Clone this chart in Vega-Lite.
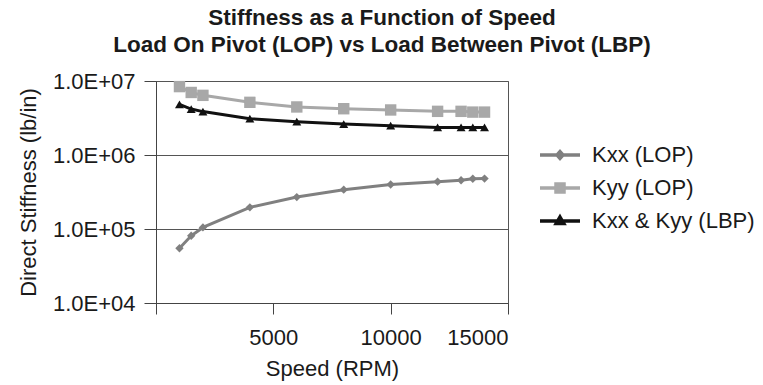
{
  "$schema": "https://vega.github.io/schema/vega-lite/v6.json",
  "width": 352,
  "height": 222,
  "autosize": {"type": "none"},
  "padding": {"left": 156, "top": 81, "right": 255, "bottom": 82},
  "background": "white",
  "title": {
    "text": ["Stiffness as a Function of Speed", "Load On Pivot (LOP) vs Load Between Pivot (LBP)"],
    "font": "Liberation Sans",
    "fontSize": 22.5,
    "fontWeight": "bold",
    "color": "#1a1a1a",
    "lineHeight": 27,
    "anchor": "middle",
    "dx": 50,
    "offset": 14
  },
  "config": {
    "view": {"stroke": "#555555", "strokeWidth": 1},
    "font": "Liberation Sans",
    "axis": {
      "labelFont": "Liberation Sans",
      "titleFont": "Liberation Sans",
      "labelColor": "#1a1a1a",
      "titleColor": "#1a1a1a",
      "titleFontWeight": "normal",
      "domainColor": "#444444",
      "tickColor": "#444444",
      "gridColor": "#555555",
      "gridOpacity": 1
    }
  },
  "data": {
    "values": [
      {"speed": 1000, "stiffness": 55000, "series": "Kxx (LOP)"},
      {"speed": 1500, "stiffness": 81000, "series": "Kxx (LOP)"},
      {"speed": 2000, "stiffness": 105000, "series": "Kxx (LOP)"},
      {"speed": 4000, "stiffness": 196000, "series": "Kxx (LOP)"},
      {"speed": 6000, "stiffness": 270000, "series": "Kxx (LOP)"},
      {"speed": 8000, "stiffness": 340000, "series": "Kxx (LOP)"},
      {"speed": 10000, "stiffness": 400000, "series": "Kxx (LOP)"},
      {"speed": 12000, "stiffness": 436000, "series": "Kxx (LOP)"},
      {"speed": 13000, "stiffness": 455000, "series": "Kxx (LOP)"},
      {"speed": 13500, "stiffness": 478000, "series": "Kxx (LOP)"},
      {"speed": 14000, "stiffness": 480000, "series": "Kxx (LOP)"},
      {"speed": 1000, "stiffness": 8400000, "series": "Kyy (LOP)"},
      {"speed": 1500, "stiffness": 7000000, "series": "Kyy (LOP)"},
      {"speed": 2000, "stiffness": 6400000, "series": "Kyy (LOP)"},
      {"speed": 4000, "stiffness": 5150000, "series": "Kyy (LOP)"},
      {"speed": 6000, "stiffness": 4460000, "series": "Kyy (LOP)"},
      {"speed": 8000, "stiffness": 4220000, "series": "Kyy (LOP)"},
      {"speed": 10000, "stiffness": 4060000, "series": "Kyy (LOP)"},
      {"speed": 12000, "stiffness": 3890000, "series": "Kyy (LOP)"},
      {"speed": 13000, "stiffness": 3890000, "series": "Kyy (LOP)"},
      {"speed": 13500, "stiffness": 3800000, "series": "Kyy (LOP)"},
      {"speed": 14000, "stiffness": 3800000, "series": "Kyy (LOP)"},
      {"speed": 1000, "stiffness": 4840000, "series": "Kxx & Kyy (LBP)"},
      {"speed": 1500, "stiffness": 4180000, "series": "Kxx & Kyy (LBP)"},
      {"speed": 2000, "stiffness": 3860000, "series": "Kxx & Kyy (LBP)"},
      {"speed": 4000, "stiffness": 3100000, "series": "Kxx & Kyy (LBP)"},
      {"speed": 6000, "stiffness": 2820000, "series": "Kxx & Kyy (LBP)"},
      {"speed": 8000, "stiffness": 2620000, "series": "Kxx & Kyy (LBP)"},
      {"speed": 10000, "stiffness": 2490000, "series": "Kxx & Kyy (LBP)"},
      {"speed": 12000, "stiffness": 2360000, "series": "Kxx & Kyy (LBP)"},
      {"speed": 13000, "stiffness": 2360000, "series": "Kxx & Kyy (LBP)"},
      {"speed": 13500, "stiffness": 2360000, "series": "Kxx & Kyy (LBP)"},
      {"speed": 14000, "stiffness": 2360000, "series": "Kxx & Kyy (LBP)"}
    ]
  },
  "encoding": {
    "x": {
      "field": "speed",
      "type": "quantitative",
      "scale": {"domain": [0, 15000], "nice": false, "zero": true},
      "axis": {
        "title": "Speed (RPM)",
        "values": [0, 5000, 10000, 15000],
        "format": "d",
        "labelExpr": "datum.value == 0 ? '' : datum.label",
        "grid": false,
        "tickSize": 11,
        "labelPadding": 13,
        "labelFontSize": 22,
        "titleFontSize": 22,
        "titlePadding": 10
      }
    },
    "y": {
      "field": "stiffness",
      "type": "quantitative",
      "scale": {"type": "log", "domain": [10000, 10000000], "nice": false},
      "axis": {
        "title": "Direct Stiffness (lb/in)",
        "values": [10000, 100000, 1000000, 10000000],
        "labelExpr": "'1.0E+0' + round(log(datum.value) / LN10)",
        "grid": true,
        "tickSize": 12,
        "labelPadding": 9,
        "labelFontSize": 22,
        "titleFontSize": 22,
        "titlePadding": 12
      }
    },
    "color": {
      "field": "series",
      "type": "nominal",
      "scale": {
        "domain": ["Kxx (LOP)", "Kyy (LOP)", "Kxx & Kyy (LBP)"],
        "range": ["#808080", "#a8a8a8", "#111111"]
      },
      "legend": {
        "title": null,
        "orient": "none",
        "legendX": 382,
        "legendY": 52,
        "symbolType": "stroke",
        "symbolStrokeWidth": 3.5,
        "symbolSize": 1600,
        "labelFontSize": 22,
        "labelLimit": 400,
        "labelFont": "Liberation Sans",
        "labelColor": "#1a1a1a",
        "labelOffset": 10,
        "rowPadding": -11.5,
        "encode": {
          "symbols": {
            "update": {
              "shape": {"signal": "datum.value == 'Kxx (LOP)' ? 'M-1,0H1M0,-0.17L0.15,0L0,0.17L-0.15,0Z' : datum.value == 'Kyy (LOP)' ? 'M-1,0H1M-0.2,-0.2H0.2V0.2H-0.2Z' : 'M-1,0H1M0,-0.2L0.19,0.13H-0.19Z'"},
              "fill": {"scale": "color", "field": "value"},
              "fillOpacity": {"value": 1}
            }
          }
        }
      }
    }
  },
  "layer": [
    {"mark": {"type": "line", "strokeWidth": 3}},
    {
      "mark": {"type": "point", "filled": true, "opacity": 1, "size": 70, "shape": "diamond"},
      "transform": [{"filter": "datum.series == 'Kxx (LOP)'"}]
    },
    {
      "mark": {"type": "point", "filled": true, "opacity": 1, "size": 130, "shape": "square"},
      "transform": [{"filter": "datum.series == 'Kyy (LOP)'"}]
    },
    {
      "mark": {"type": "point", "filled": true, "opacity": 1, "size": 80, "shape": "triangle-up"},
      "transform": [{"filter": "datum.series == 'Kxx & Kyy (LBP)'"}]
    }
  ]
}
